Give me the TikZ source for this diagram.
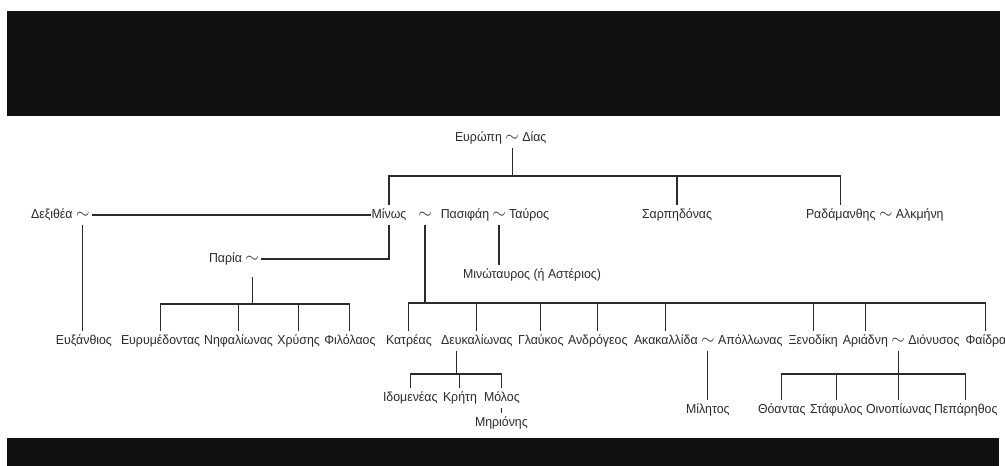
\documentclass[tikz,border=0pt]{standalone}
\usepackage{fontspec}
\setmainfont{Liberation Sans}[FakeStretch=0.95]
\usetikzlibrary{calc}
\definecolor{ink}{HTML}{2B2B2B}
\definecolor{bar}{HTML}{101010}
\begin{document}
\begin{tikzpicture}[x=1pt,y=-1pt,
  nm/.style={inner xsep=1pt, inner ysep=4pt, outer sep=0pt, text height=9pt, text depth=3pt,
    font=\fontsize{13}{15}\selectfont, text=ink, anchor=base west},
  tl/.style={nm, inner xsep=2.5pt, font=\fontsize{17}{17}\selectfont},
  ln/.style={draw=ink, line width=1.1pt}]
\useasboundingbox[fill=white] (0,0) rectangle (1005,466);
\fill[bar] (7,11) rectangle (1000,116);
\fill[bar] (7,438) rectangle (999,466);

% row 1
\node[nm] (europa) at (454,141) {Ευρώπη};
\node[tl] (t0) at (europa.base east) {$\sim$};
\node[nm] (dias) at (t0.base east) {Δίας};

% row 2
\node[nm] (dex) at (30,218) {Δεξιθέα};
\node[tl] (tD) at (dex.base east) {$\sim$};
\node[nm, anchor=base] (minos) at (389,218) {Μίνως};
\node[tl, anchor=base] (tM) at (425,218) {$\sim$};
\node[nm, anchor=base] (pasi) at (465,218) {Πασιφάη};
\node[tl, anchor=base] (tT) at (499,218) {$\sim$};
\node[nm, anchor=base west] (tavros) at (tT.base east) {Ταύρος};
\node[nm] (sarp) at (641,218) {Σαρπηδόνας};
\node[nm] (rad) at (805,218) {Ραδάμανθης};
\node[tl] (tR) at (rad.base east) {$\sim$};
\node[nm] (alk) at (tR.base east) {Αλκμήνη};

\node[nm] (paria) at (208,262) {Παρία};
\node[tl] (tP) at (paria.base east) {$\sim$};
\node[nm, anchor=base] (mino) at (532,278) {Μινώταυρος (ή Αστέριος)};

% row 3
\node[nm] (euxan) at (55,344) {Ευξάνθιος};
\node[nm] (eury) at (120,344) {Ευρυμέδοντας};
\node[nm] (nif) at ([xshift=2pt]eury.base east) {Νηφαλίωνας};
\node[nm] (chry) at ([xshift=2.5pt]nif.base east) {Χρύσης};
\node[nm] (fil) at ([xshift=2.5pt]chry.base east) {Φιλόλαος};
\node[nm] (katr) at (385,344) {Κατρέας};
\node[nm] (deuk) at (440,344) {Δευκαλίωνας};
\node[nm] (glau) at (517,344) {Γλαύκος};
\node[nm] (andr) at (567,344) {Ανδρόγεος};
\node[nm] (akak) at (633,344) {Ακακαλλίδα};
\node[tl] (tA) at (akak.base east) {$\sim$};
\node[nm] (apol) at (tA.base east) {Απόλλωνας};
\node[nm] (xeno) at ([xshift=4pt]apol.base east) {Ξενοδίκη};
\node[nm] (ari) at ([xshift=3pt]xeno.base east) {Αριάδνη};
\node[tl] (tAr) at (ari.base east) {$\sim$};
\node[nm] (dion) at (tAr.base east) {Διόνυσος};
\node[nm] (faid) at ([xshift=4pt]dion.base east) {Φαίδρα};

% row 4
\node[nm] (idom) at (382,401) {Ιδομενέας};
\node[nm] (krit) at (442,401) {Κρήτη};
\node[nm] (molos) at (483,401) {Μόλος};
\node[nm] (meri) at (474,426) {Μηριόνης};
\node[nm] (milto) at (685,413) {Μίλητος};
\node[nm] (thoas) at (757,413) {Θόαντας};
\node[nm] (staf) at (809,413) {Στάφυλος};
\node[nm] (oino) at (865,413) {Οινοπίωνας};
\node[nm] (pepa) at (933,413) {Πεπάρηθος};

% buses
\coordinate (b1) at (0,176);
\coordinate (b2) at (0,304);
\coordinate (b3) at (0,303);
\coordinate (b4) at (0,374);

\draw[ln] (t0.south) -- (t0.south |- b1);
\draw[ln] (minos.north) -- (minos.north |- b1) -- (rad.north |- b1) -- (rad.north);
\draw[ln] (sarp.north) -- (sarp.north |- b1);

\draw[ln] (tD.east) -- (minos.west);
\draw[ln] (tD.south) -- (tD.south |- euxan.north);
\draw[ln] (tP.east) -| (minos.south);
\draw[ln, shorten <=8pt] (tP.south) -- (tP.south |- b2);
\draw[ln] (eury.north) -- (eury.north |- b2) -- (fil.north |- b2) -- (fil.north);
\foreach \n in {nif,chry} \draw[ln] (\n.north) -- (\n.north |- b2);

\draw[ln] (tT.south) -- (tT.south |- mino.north);

\draw[ln] (tM.south) -- (tM.south |- b3);
\draw[ln] (katr.north) -- (katr.north |- b3) -- (faid.north |- b3) -- (faid.north);
\foreach \n in {deuk,glau,andr,akak,xeno,ari} \draw[ln] (\n.north) -- (\n.north |- b3);

\coordinate (dmid) at ($(idom.north)!0.5!(molos.north)$);
\draw[ln] (deuk.south -| dmid) -- (dmid |- b4);
\draw[ln] (idom.north) -- (idom.north |- b4) -- (molos.north |- b4) -- (molos.north);
\draw[ln] (krit.north) -- (krit.north |- b4);
\draw[ln] (molos.south) -- (molos.south |- meri.north);

\draw[ln] (tA.south) -- (tA.south |- milto.north);
\draw[ln] (tAr.south) -- (tAr.south |- b4);
\draw[ln] (thoas.north) -- (thoas.north |- b4) -- (pepa.north |- b4) -- (pepa.north);
\foreach \n in {staf,oino} \draw[ln] (\n.north) -- (\n.north |- b4);
\end{tikzpicture}
\end{document}
